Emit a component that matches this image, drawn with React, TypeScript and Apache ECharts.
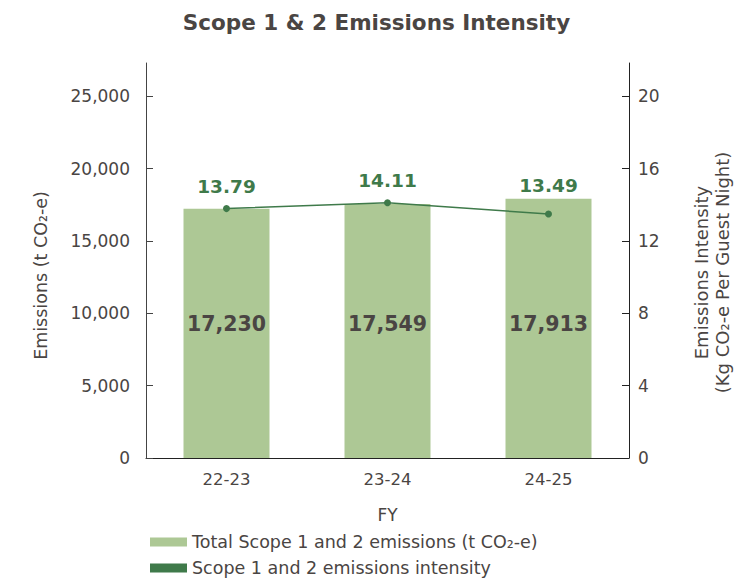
import React, { useEffect, useRef } from "react";
import * as echarts from "echarts";

const categories = ["22-23", "23-24", "24-25"];
const totalEmissions = [17230, 17549, 17913];
const intensity = [13.79, 14.11, 13.49];
const leftTicks = [0, 5000, 10000, 15000, 20000, 25000];
const rightTicks = [0, 4, 8, 12, 16, 20];
const barName = "Total Scope 1 and 2 emissions (t CO₂-e)";
const lineName = "Scope 1 and 2 emissions intensity";

const FONT = "'DejaVu Sans', sans-serif";
const TEXT = "#4a4543";
const GREEN = "#3f7a4a";
const BAR = "#adc895";

const fmt = (v: number) => String(v).replace(/\B(?=(\d{3})+(?!\d))/g, ",");

export default function App() {
  const ref = useRef<HTMLDivElement>(null);
  useEffect(() => {
    if (!ref.current) return;
    const chart = echarts.init(ref.current, undefined, { renderer: "svg" });
    const legendBase = {
      orient: "horizontal",
      left: 145,
      itemWidth: 37,
      itemHeight: 9,
      itemGap: 0,
      textStyle: { fontSize: 17.5, color: TEXT, fontFamily: FONT },
    };
    chart.setOption({
      animation: false,
      textStyle: { fontFamily: FONT },
      title: {
        text: "Scope 1 & 2 Emissions Intensity",
        left: "center",
        top: 6,
        textStyle: { fontSize: 21.5, fontWeight: 600, color: TEXT, fontFamily: FONT },
      },
      grid: { left: 146, right: 124, top: 63, bottom: 122, containLabel: false, outerBoundsMode: "none" },
      legend: [
        { ...legendBase, top: 528, data: [{ name: barName, icon: "rect", itemStyle: { color: BAR } }] },
        { ...legendBase, top: 554, data: [{ name: lineName, icon: "rect", itemStyle: { color: GREEN } }] },
      ],
      xAxis: {
        type: "category",
        data: categories,
        name: "FY",
        nameLocation: "middle",
        nameGap: 48,
        nameTextStyle: { fontSize: 17, color: TEXT },
        axisLine: { lineStyle: { color: "#222", width: 1 } },
        axisTick: { show: false },
        axisLabel: { fontSize: 16.5, color: TEXT, margin: 13 },
      },
      yAxis: [
        {
          type: "value",
          min: 0,
          max: 27300,
          interval: 5000,
          name: "Emissions (t CO₂-e)",
          nameLocation: "middle",
          nameGap: 96,
          nameRotate: 90,
          nameTextStyle: { fontSize: 17.5, color: TEXT, padding: [0, 30, 0, 0] },
          axisLine: { show: true, lineStyle: { color: "#444" } },
          axisTick: { show: true, inside: true, length: 7, customValues: leftTicks, lineStyle: { color: "#444" } },
          axisLabel: { fontSize: 17, color: TEXT, margin: 16, customValues: leftTicks, formatter: (v: number) => fmt(v) },
          splitLine: { show: false },
        },
        {
          type: "value",
          min: 0,
          max: 21.84,
          interval: 4,
          position: "right",
          name: "Emissions Intensity\n(Kg CO₂-e Per Guest Night)",
          nameLocation: "middle",
          nameGap: 62,
          nameRotate: 90,
          nameTextStyle: { fontSize: 18, color: TEXT, lineHeight: 21, padding: [0, 24, 0, 0] },
          axisLine: { show: true, lineStyle: { color: "#222" } },
          axisTick: { show: true, inside: true, length: 7, customValues: rightTicks, lineStyle: { color: "#222" } },
          axisLabel: { fontSize: 17, color: TEXT, margin: 9, customValues: rightTicks },
          splitLine: { show: false },
        },
      ],
      series: [
        {
          name: barName,
          type: "bar",
          data: totalEmissions,
          barWidth: 86,
          itemStyle: { color: BAR },
          label: {
            show: true,
            position: "insideBottom",
            distance: 124,
            fontSize: 20.5,
            fontWeight: 700,
            color: TEXT,
            fontFamily: FONT,
            formatter: (p: any) => fmt(p.value),
          },
          z: 1,
        },
        {
          name: lineName,
          type: "line",
          yAxisIndex: 1,
          data: intensity.map((v, i) => (i === intensity.length - 1 ? { value: v, label: { distance: 16 } } : { value: v })),
          symbol: "circle",
          symbolSize: 7,
          itemStyle: { color: GREEN },
          lineStyle: { color: GREEN, width: 1.5 },
          label: {
            show: true,
            position: "top",
            distance: 9,
            fontSize: 18.5,
            fontWeight: 700,
            color: GREEN,
            fontFamily: FONT,
            formatter: (p: any) => p.value.toFixed(2),
          },
          z: 3,
        },
      ],
    });
    return () => chart.dispose();
  }, []);
  return <div ref={ref} style={{ width: 753, height: 580, position: "absolute", left: 0, top: 0 }} />;
}
